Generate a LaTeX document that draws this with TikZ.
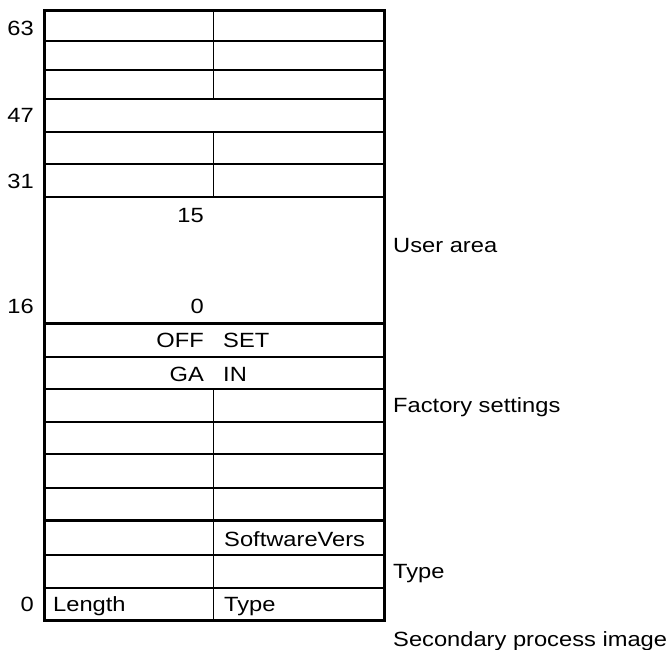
\documentclass[tikz,border=0pt]{standalone}
\usepackage{fontspec}
\setmainfont{Liberation Sans}[FakeStretch=1.15]
\usetikzlibrary{positioning}

\begin{document}
\begin{tikzpicture}[x=1pt,y=-1pt,font=\fontsize{20.6}{24}\selectfont,
		frame/.style={line width=3pt},
		rule/.style={line width=1.3pt},
		bitno/.style={anchor=base east,inner sep=0pt},
		field/.style={anchor=base west,inner sep=0pt}]
				\useasboundingbox (0,0) rectangle (672,649);
				% frame and rows
				\draw[frame] (44.5,10.5) rectangle (384.5,620);
				\foreach \y in {41,70,99,132,164,197,357,389,422,454,488,555,588}
					\draw[rule] (44.5,\y) -- (384.5,\y);
				\draw[frame] (44.5,323) -- (384.5,323);
				\draw[frame] (44.5,520) -- (384.5,520);
				\draw[rule] (213.5,10.5) -- (213.5,99);
				\draw[rule] (213.5,132) -- (213.5,197);
				\draw[rule] (213.5,389) -- (213.5,620);
				% bit numbers
				\node[bitno] (b63) at (34,35) {63};
				\node[bitno] (b47) at (34,122) {47};
				\node[bitno] (b31) at (34,188) {31};
				\node[bitno] (b16) at (34,313) {16};
				\node[bitno] (b0) at (34,611) {0};
				% cells
				\node[bitno] (u15) at (204,222) {15};
				\node[bitno] (u0) at (204,313) {0};
				\node[bitno] (off) at (204,347) {OFF};
				\node[field] (set) at (223,347) {SET};
				\node[bitno] (ga) at (204,381) {GA};
				\node[field] (in) at (223,381) {IN};
				\node[field] (sw) at (224,546) {SoftwareVers};
				\node[field] (len) at (53,611) {Length};
				\node[field] (typ) at (224,611) {Type};
				% areas
				\node[field] (user) at (393,252) {User area};
				\node[field] (factory) at (393,412) {Factory settings};
				\node[field] (type) at (393,578) {Type};
				\node[field] (image) at (393,646) {Secondary process image};
			\end{tikzpicture}
\end{document}
